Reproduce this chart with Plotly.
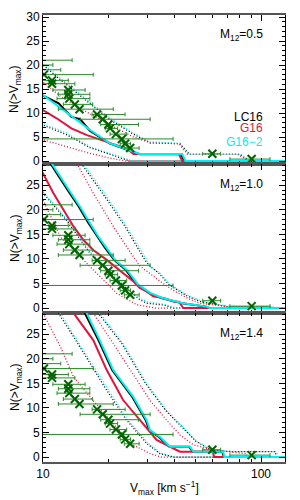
import plotly.graph_objects as go

# ---------------- observed satellites (same in every panel) ----------------
obs_v = [8.5, 8.0, 9.0, 10.1, 11.0, 11.0, 13.06, 13.06, 13.2, 14.0, 14.7,
         17.7, 18.8, 19.95, 20.3, 21.6, 23.0, 23.8, 25.1, 59.8, 90.6]
obs_n = [21.0, 20.0, 19.0, 18.0, 16.8, 16.1, 14.8, 13.9, 13.0, 11.8, 10.8,
         9.7, 8.7, 7.6, 6.8, 5.6, 4.6, 3.6, 2.7, 1.5, 0.4]
obs_lo = [7.0, 7.0, 7.0, 9.6, 9.6, 9.6, 11.1, 11.76, 11.6, 12.4, 11.76,
          16.8, 14.8, 18.4, 19.3, 20.3, 7.0, 22.6, 23.6, 54.0, 72.0]
obs_hi = [13.6, 11.1, 12.06, 17.0, 13.06, 14.0, 15.6, 16.4, 16.4, 16.9, 21.0,
          23.8, 31.0, 27.4, 22.0, 24.2, 39.5, 25.2, 27.6, 65.3, 110.0]

# ---------------- model curves: M12 = 0.5 ----------------
p1_lc16_mid_v = [9.5, 10, 11.8, 13.5, 14.8, 16.4, 20.3, 26, 27.8, 43, 44.5, 140]
p1_lc16_mid_n = [14.2, 13.6, 12.0, 9.2, 8.7, 6.3, 3.6, 1.8, 1.4, 1.4, 0, 0]
p1_g16_mid_v = [9.5, 10, 11.55, 13.5, 15.9, 20.3, 24.2, 26, 42, 43.5, 140]
p1_g16_mid_n = [11.0, 10.6, 8.9, 6.8, 5.4, 3.7, 2.6, 1.46, 1.46, 0, 0]
p1_g162_mid_v = [9.5, 10, 13.3, 16.4, 20.3, 26, 27.8, 43.5, 45, 140]
p1_g162_mid_n = [14.3, 13.75, 9.6, 6.5, 3.7, 1.9, 1.46, 1.46, 0, 0]

p1_lc16_up_v = [9.5, 10, 11.76, 15.9, 20.3, 26, 31, 42.5, 47, 80, 89, 140]
p1_lc16_up_n = [20.5, 20.0, 17.3, 12.4, 8.6, 5.6, 3.8, 3.6, 1.4, 1.4, 0, 0]
p1_g16_up_v = [9.5, 10, 12, 15.3, 20.3, 26, 31, 42, 46, 78, 88, 140]
p1_g16_up_n = [17.0, 16.5, 13.5, 10.6, 7.5, 5.0, 3.8, 3.6, 1.4, 1.4, 0, 0]
p1_g162_up_v = [9.5, 10, 11.76, 15.9, 20.3, 26, 31, 42.5, 47, 80, 89, 140]
p1_g162_up_n = [20.8, 20.35, 17.6, 12.7, 8.9, 5.8, 4.0, 3.7, 1.46, 1.46, 0, 0]

p1_lc16_lo_v = [9.5, 10, 12.8, 16.4, 20.3, 25, 140]
p1_lc16_lo_n = [7.8, 7.5, 5.5, 2.8, 1.4, 0, 0]
p1_g16_lo_v = [9.5, 10, 12.8, 16.4, 20.3, 24, 140]
p1_g16_lo_n = [4.7, 4.4, 3.0, 1.6, 0.6, 0, 0]
p1_g162_lo_v = [9.5, 10, 12.8, 16.4, 20.3, 25.1, 27, 140]
p1_g162_lo_n = [8.2, 7.85, 5.8, 3.0, 1.6, 0.2, 0, 0]

# ---------------- model curves: M12 = 1.0 ----------------
p2_lc16_mid_v = [10.35, 10.85, 13.1, 14.6, 16.15, 17.7, 19.3, 21.2, 23.9, 27.0, 28.4, 30.6, 35.2, 43.5, 56, 57.8, 140]
p2_lc16_mid_n = [30.5, 29.3, 23.7, 20.6, 17.3, 14.6, 12.2, 9.8, 7.8, 4.7, 4.1, 3.1, 2.0, 1.0, 0.3, 0, 0]
p2_g16_mid_v = [9.5, 10, 11.15, 12.4, 13.8, 15.3, 17.0, 19.6, 23.3, 26, 27.8, 29.9, 32, 36, 40, 42, 44, 140]
p2_g16_mid_n = [28.5, 27.4, 23.4, 20, 16.6, 13.9, 11.8, 9.8, 7.1, 5.4, 4.1, 3.4, 2.4, 2.0, 1.3, 1.3, 0, 0]
p2_g162_mid_v = [10.5, 11.0, 13.3, 14.8, 16.4, 17.9, 19.6, 21.4, 24.2, 27.4, 28.8, 31, 35.6, 44, 56.4, 58.3, 140]
p2_g162_mid_n = [30.5, 29.3, 23.7, 20.6, 17.3, 14.6, 12.2, 9.8, 7.8, 4.7, 4.1, 3.1, 2.0, 1.0, 0.3, 0, 0]

p2_lc16_up_v = [14.2, 15.0, 19.2, 23.8, 29.3, 31, 34, 38, 46, 53, 70, 105, 118, 140]
p2_lc16_up_n = [31, 29.4, 22.7, 16.6, 9.8, 8.5, 7.1, 4.7, 2.4, 1.3, 0.3, 0.3, 0, 0]
p2_g16_up_v = [13.6, 14.3, 17.0, 21.0, 25.9, 27.9, 31, 35, 40, 46, 52, 65, 75, 140]
p2_g16_up_n = [31, 29.4, 23.4, 16.6, 10.5, 8.5, 7.0, 5.2, 3.5, 2.0, 1.0, 0.5, 0, 0]
p2_g162_up_v = [14.5, 15.3, 19.6, 24.2, 29.9, 31, 34.4, 38.3, 47.2, 54.3, 72.1, 110, 122, 140]
p2_g162_up_n = [31, 29.4, 22.7, 16.6, 9.8, 8.5, 7.1, 4.7, 2.4, 1.3, 0.3, 0.3, 0, 0]

p2_lc16_lo_v = [9.5, 10, 12.8, 16.4, 21.8, 27.8, 30, 36, 40, 140]
p2_lc16_lo_n = [24.3, 23.4, 17.9, 11.2, 5.8, 1.7, 1.0, 0.6, 0, 0]
p2_g16_lo_v = [9.5, 10, 12.0, 16.4, 21.8, 26.9, 29.9, 33, 140]
p2_g16_lo_n = [23.5, 22.0, 14.5, 8.5, 3.0, 0.7, 0.3, 0, 0]
p2_g162_lo_v = [9.5, 10, 12.8, 16.4, 21.8, 27.8, 30, 36, 41, 140]
p2_g162_lo_n = [24.6, 23.7, 18.2, 11.5, 6.1, 2.0, 1.3, 0.8, 0, 0]

# ---------------- model curves: M12 = 1.4 ----------------
p3_lc16_mid_v = [15.1, 15.55, 17.95, 20.75, 25.6, 29.6, 30.7, 34.0, 38.0, 46.8, 48.6, 66.5, 67.5, 140]
p3_lc16_mid_n = [31, 29.3, 23.8, 17.7, 12.3, 7.5, 5.5, 4.1, 2.1, 2.1, 1.1, 1.1, 0, 0]
p3_g16_mid_v = [13.4, 13.8, 17.0, 19.6, 23.3, 27.8, 33.2, 38.3, 42.5, 60, 61, 140]
p3_g16_mid_n = [31, 29.3, 23.8, 17.7, 11.6, 7.5, 3.5, 2.1, 1.1, 1.1, 0, 0]
p3_g162_mid_v = [15.4, 15.85, 18.2, 21.0, 25.9, 29.9, 31, 34.4, 38.3, 47.2, 49, 67, 68, 140]
p3_g162_mid_n = [31, 29.3, 23.8, 17.7, 12.3, 7.5, 5.5, 4.1, 2.1, 2.1, 1.1, 1.1, 0, 0]

p3_lc16_up_v = [17.3, 17.9, 23.0, 29.5, 36.5, 43.5, 50.3, 59, 74, 99, 116, 118, 140]
p3_lc16_up_n = [30.5, 29.3, 23.1, 15.0, 9.5, 6.0, 3.2, 1.4, 1.1, 1.1, 1.1, 0, 0]
p3_g16_up_v = [16.6, 17.0, 21.0, 25.9, 31, 36.9, 42.5, 49, 60, 70, 85, 86, 140]
p3_g16_up_n = [30.5, 29.3, 23.1, 17.0, 11.5, 7.5, 4.5, 2.5, 1.4, 1.1, 0.7, 0, 0]
p3_g162_up_v = [17.6, 18.2, 23.3, 29.9, 36.9, 43.9, 50.8, 60, 75, 100, 118, 120, 140]
p3_g162_up_n = [30.5, 29.3, 23.1, 15.0, 9.5, 6.0, 3.2, 1.4, 1.1, 1.1, 1.1, 0, 0]

p3_lc16_lo_v = [11.5, 11.76, 13.8, 16.4, 19.6, 24.2, 29.9, 34.4, 39.6, 140]
p3_lc16_lo_n = [30.5, 29.3, 24.5, 19.0, 13.6, 7.5, 2.8, 0.7, 0, 0]
p3_g16_lo_v = [9.8, 10, 12.0, 13.8, 16.4, 20.3, 25.1, 31, 35, 140]
p3_g16_lo_n = [29.8, 29.3, 22.5, 16.3, 12.3, 7.5, 2.8, 0.7, 0, 0]
p3_g162_lo_v = [11.7, 12.0, 14.0, 16.7, 20.0, 24.6, 30.4, 35, 40, 140]
p3_g162_lo_n = [30.5, 29.3, 24.5, 19.0, 13.6, 7.5, 2.8, 0.7, 0, 0]

panel_labels = ["M<sub>12</sub>=0.5", "M<sub>12</sub>=1.0", "M<sub>12</sub>=1.4"]
model_names = ["LC16", "G16", "G16\u22122"]
y_ticks = [0, 5, 10, 15, 20, 25, 30]
x_ticks = [10, 100]
x_tick_text = ["10", "100"]
x_minor = [20, 30, 40, 50, 60, 70, 80, 90]

# ---------------- styling ----------------
C_BLACK = "black"
C_RED = "#E0143C"
C_CYAN = "#00F0F0"
C_GREEN = "#006400"
C_GREEN_BAR = "#2A8A2A"
FONT = "Liberation Sans, Arial, sans-serif"

panels = [
    dict(lc=(p1_lc16_mid_v, p1_lc16_mid_n, p1_lc16_up_v, p1_lc16_up_n, p1_lc16_lo_v, p1_lc16_lo_n),
         g=(p1_g16_mid_v, p1_g16_mid_n, p1_g16_up_v, p1_g16_up_n, p1_g16_lo_v, p1_g16_lo_n),
         g2=(p1_g162_mid_v, p1_g162_mid_n, p1_g162_up_v, p1_g162_up_n, p1_g162_lo_v, p1_g162_lo_n),
         yr=[-0.625, 30.42], dom=[2 / 3, 1.0]),
    dict(lc=(p2_lc16_mid_v, p2_lc16_mid_n, p2_lc16_up_v, p2_lc16_up_n, p2_lc16_lo_v, p2_lc16_lo_n),
         g=(p2_g16_mid_v, p2_g16_mid_n, p2_g16_up_v, p2_g16_up_n, p2_g16_lo_v, p2_g16_lo_n),
         g2=(p2_g162_mid_v, p2_g162_mid_n, p2_g162_up_v, p2_g162_up_n, p2_g162_lo_v, p2_g162_lo_n),
         yr=[-1.0, 29.3], dom=[1 / 3, 2 / 3]),
    dict(lc=(p3_lc16_mid_v, p3_lc16_mid_n, p3_lc16_up_v, p3_lc16_up_n, p3_lc16_lo_v, p3_lc16_lo_n),
         g=(p3_g16_mid_v, p3_g16_mid_n, p3_g16_up_v, p3_g16_up_n, p3_g16_lo_v, p3_g16_lo_n),
         g2=(p3_g162_mid_v, p3_g162_mid_n, p3_g162_up_v, p3_g162_up_n, p3_g162_lo_v, p3_g162_lo_n),
         yr=[-1.0, 29.3], dom=[0.0, 1 / 3]),
]

fig = go.Figure()
layout_axes = {}

for i, p in enumerate(panels):
    sfx = "" if i == 0 else str(i + 1)
    xref, yref = "x" + sfx, "y" + sfx
    for key, col in (("lc", C_BLACK), ("g", C_RED), ("g2", C_CYAN)):
        d = p[key]
        for vv, nn in ((d[2], d[3]), (d[4], d[5])):
            fig.add_trace(go.Scatter(x=vv, y=nn, mode="lines", xaxis=xref, yaxis=yref,
                                     line=dict(color=col, width=1.3, dash="1px,2px"),
                                     showlegend=False, hoverinfo="skip"))
    for key, col in (("lc", C_BLACK), ("g", C_RED), ("g2", C_CYAN)):
        d = p[key]
        fig.add_trace(go.Scatter(x=d[0], y=d[1], mode="lines", xaxis=xref, yaxis=yref,
                                 line=dict(color=col, width=2),
                                 showlegend=False, hoverinfo="skip"))
    fig.add_trace(go.Scatter(
        x=obs_v, y=obs_n, mode="markers", xaxis=xref, yaxis=yref,
        marker=dict(symbol="x-thin", size=8, line=dict(color=C_GREEN, width=2)),
        error_x=dict(type="data", symmetric=False,
                     array=[h - v for h, v in zip(obs_hi, obs_v)],
                     arrayminus=[v - l for v, l in zip(obs_v, obs_lo)],
                     color=C_GREEN_BAR, thickness=1, width=2),
        showlegend=False, hoverinfo="skip"))

    layout_axes["yaxis" + sfx] = dict(
        domain=p["dom"], anchor=xref, range=p["yr"], tickvals=y_ticks,
        ticks="inside", ticklen=6, tickcolor="black", tickwidth=1,
        minor=dict(dtick=1, ticks="inside", ticklen=3, tickcolor="black"),
        showline=True, linecolor="black", linewidth=1, mirror="ticks",
        showgrid=False, zeroline=False, automargin=False,
        tickfont=dict(size=12, color="black", family=FONT))
    layout_axes["xaxis" + sfx] = dict(
        domain=[0, 1], anchor=yref, type="log", range=[1, 2.11],
        tickvals=x_ticks, ticktext=x_tick_text, showticklabels=(i == 2),
        ticks="inside", ticklen=6, tickcolor="black", tickwidth=1,
        minor=dict(tickvals=x_minor, ticks="inside", ticklen=3, tickcolor="black"),
        showline=True, linecolor="#555555", linewidth=1.5, mirror="ticks",
        showgrid=False, zeroline=False, automargin=False,
        tickfont=dict(size=12, color="black", family=FONT))
    if i < 2:
        layout_axes["xaxis" + sfx]["matches"] = "x3"

ann = []
label_y = [0.955, 0.620, 0.286]
centers = [1 - (89.5 - 15) / 447, 1 - (238.5 - 15) / 447, 1 - (387.5 - 15) / 447]
for i in range(3):
    ann.append(dict(text=panel_labels[i], x=0.917, y=label_y[i], xref="paper", yref="paper",
                    xanchor="right", yanchor="middle", showarrow=False,
                    font=dict(size=12, color="black", family=FONT)))
    ann.append(dict(text="N(&gt;V<sub>max</sub>)", x=-0.1136, y=centers[i], xref="paper", yref="paper",
                    xanchor="center", yanchor="middle", textangle=-90, showarrow=False,
                    font=dict(size=12, color="black", family=FONT)))
for name, col, yy in zip(model_names, [C_BLACK, C_RED, C_CYAN], [0.7725, 0.7465, 0.7166]):
    ann.append(dict(text=name, x=0.917, y=yy, xref="paper", yref="paper",
                    xanchor="right", yanchor="middle", showarrow=False,
                    font=dict(size=12, color=col, family=FONT)))
ann.append(dict(text="V<sub>max</sub> [km s<sup>\u22121</sup>]", x=0.504, y=-0.058,
                xref="paper", yref="paper", xanchor="center", yanchor="middle",
                showarrow=False, font=dict(size=12, color="black", family=FONT)))

# the page body keeps its default 8px margin, so the figure is 8px smaller than the window
fig.update_layout(template="none", width=292, height=492,
                  margin=dict(l=35, r=15, t=7, b=38, pad=0),
                  paper_bgcolor="white", plot_bgcolor="white",
                  annotations=ann, showlegend=False,
                  font=dict(family=FONT, size=12, color="black"),
                  **layout_axes)

fig.write_html("out.html")
